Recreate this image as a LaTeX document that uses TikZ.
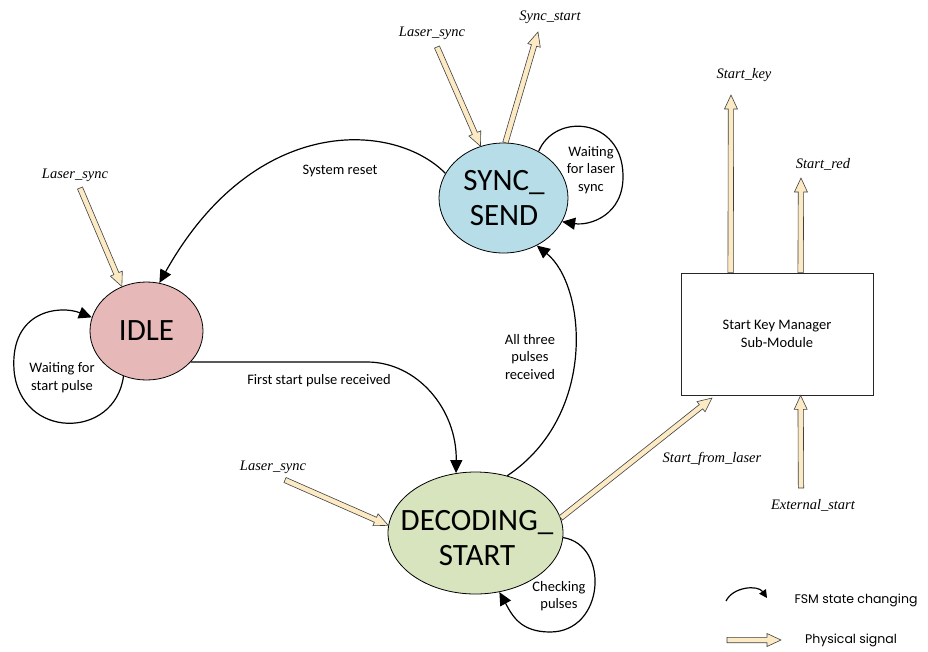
\documentclass[tikz,border=0pt]{standalone}
\usepackage{fontspec}
\setmainfont{Liberation Serif}
\newfontfamily\carlito{Carlito}
\newfontfamily\legendfont{Poppins}
\usetikzlibrary{shapes.geometric,arrows.meta,calc}

\definecolor{idlefill}{HTML}{E6B9B8}
\definecolor{syncfill}{HTML}{B7DEE8}
\definecolor{decfill}{HTML}{D7E4BD}
\definecolor{sigfill}{RGB}{252,234,196}
\definecolor{sigline}{HTML}{404040}

\begin{document}
\begin{tikzpicture}[x=1pt,y=1pt,
  state/.style={ellipse, draw=black, line width=0.8pt, inner sep=0pt},
  statetext/.style={font=\carlito\fontsize{31}{35}\selectfont, align=center, inner sep=0pt},
  note/.style={font=\carlito\fontsize{14.5}{17.5}\selectfont, align=center, inner sep=0pt},
  signame/.style={font=\itshape\fontsize{14.5}{17}\selectfont, inner sep=0pt},
  legendtext/.style={font=\legendfont\fontsize{12.5}{15}\selectfont, inner sep=0pt},
  fsm/.style={draw=black, line width=1.2pt, -{Triangle[length=13pt,width=12pt]}},
  fsmsmall/.style={draw=black, line width=1.2pt, -{Triangle[length=8pt,width=8pt]}},
  % hollow signal arrow: a filled outline of shaft plus head
  sig/.style={draw=sigline, fill=sigfill, line width=0.6pt, line join=miter,
    to path={let \p1=($(\tikztotarget)!14pt!(\tikztostart)$) in
      ($(\tikztostart)!2.7pt!90:(\tikztotarget)$)
      -- ($(\p1)!2.7pt!90:(\tikztotarget)$)
      -- ($(\p1)!6.5pt!90:(\tikztotarget)$)
      -- (\tikztotarget)
      -- ($(\p1)!6.5pt!-90:(\tikztotarget)$)
      -- ($(\p1)!2.7pt!-90:(\tikztotarget)$)
      -- ($(\tikztostart)!2.7pt!-90:(\tikztotarget)$)
      -- cycle}}
]
\useasboundingbox (0,0) rectangle (928,-651);

% states
\node[state, fill=idlefill, minimum width=113pt, minimum height=98pt] (idle) at (146.5,-331) {};
\node[state, fill=syncfill, minimum width=129pt, minimum height=110pt] (sync) at (503.5,-198) {};
\node[state, fill=decfill, minimum width=175pt, minimum height=122pt] (dec) at (475.5,-533) {};

\node[statetext] (idletxt) at (146.5,-331) {IDLE};
\node[statetext] (synctxt) at (504,-198) {SYNC\_\\SEND};
\node[statetext] (dectxt) at (477,-538) {DECODING\_\\START};

% sub-module box
\node[draw=black!85, line width=0.8pt, minimum width=192pt, minimum height=122pt, note] (skm) at (777,-334) {Start Key Manager\\Sub-Module};

% state transitions
\draw[fsm] (sync.157) .. controls (395,-122) and (255,-112) .. (idle.75);
\draw[fsm] (idle.-35) -- (367,-362) .. controls (417,-362) and (457,-409) .. (dec.108);
\draw[fsm] (dec.61) .. controls (598,-415) and (586,-285) .. (sync.-55);
\draw[fsm] (idle.243) .. controls (115,-440) and (20,-440) .. (14,-370)
           .. controls (10,-310) and (60,-305) .. (idle.166);
\draw[fsm] (sync.53) .. controls (555,-112) and (622,-118) .. (623,-175)
           .. controls (624,-215) and (590,-226) .. (sync.-22);
\draw[fsm] (dec.-3) .. controls (610,-545) and (605,-632) .. (550,-632)
           .. controls (520,-632) and (512,-615) .. (dec.-68);

% transition notes
\node[note] (n1) at (62,-377.5) {Waiting for\\start pulse};
\node[note] (n2) at (591,-170) {Waiting\\for laser\\sync};
\node[note] (n3) at (530,-357) {All three\\pulses\\received};
\node[note] (n4) at (559,-596) {Checking\\pulses};
\node[note] (n5) at (340,-171) {System reset};
\node[note] (n6) at (319,-381) {First start pulse received};

% physical signals
\coordinate (s1a) at (80,-188);
\coordinate (s2a) at (437,-47);
\coordinate (s3b) at (538,-32);
\coordinate (s4a) at (285,-480);
\coordinate (s5b) at (712,-398);
\coordinate (k1) at ([xshift=50pt]skm.north west);
\coordinate (k1t) at (731,-95);
\coordinate (k2) at ([xshift=120pt]skm.north west);
\coordinate (k2t) at (801,-178);
\coordinate (k3) at (801,-488);
\coordinate (k3t) at ([xshift=120pt]skm.south west);

\path[sig] (s1a) to (idle.119);
\path[sig] (s2a) to (sync.114);
\path[sig] (sync.88) to (s3b);
\path[sig] (s4a) to (dec.175);
\path[sig] (dec.10) to (s5b);
\path[sig] (k1) to (k1t);
\path[sig] (k2) to (k2t);
\path[sig] (k3) to (k3t);

\node[signame] (l1) at (75,-175) {Laser\_sync};
\node[signame] (l2) at (432,-33) {Laser\_sync};
\node[signame] (l3) at (550,-17) {Sync\_start};
\node[signame] (l4) at (273,-467) {Laser\_sync};
\node[signame] (l5) at (744,-75) {Start\_key};
\node[signame] (l6) at (823,-164) {Start\_red};
\node[signame] (l7) at (712,-459) {Start\_from\_laser};
\node[signame] (l8) at (813,-505) {External\_start};

% legend
\coordinate (fa) at (726,-601);
\coordinate (fb) at (767,-598);
\draw[fsmsmall] (fa) to[bend left=60] (fb);
\node[legendtext] (lg1) at (856,-600) {FSM state changing};
\coordinate (pa) at (727,-640);
\coordinate (pb) at (781,-640);
\path[sig] (pa) to (pb);
\node[legendtext] (lg2) at (851,-640) {Physical signal};
\end{tikzpicture}
\end{document}
